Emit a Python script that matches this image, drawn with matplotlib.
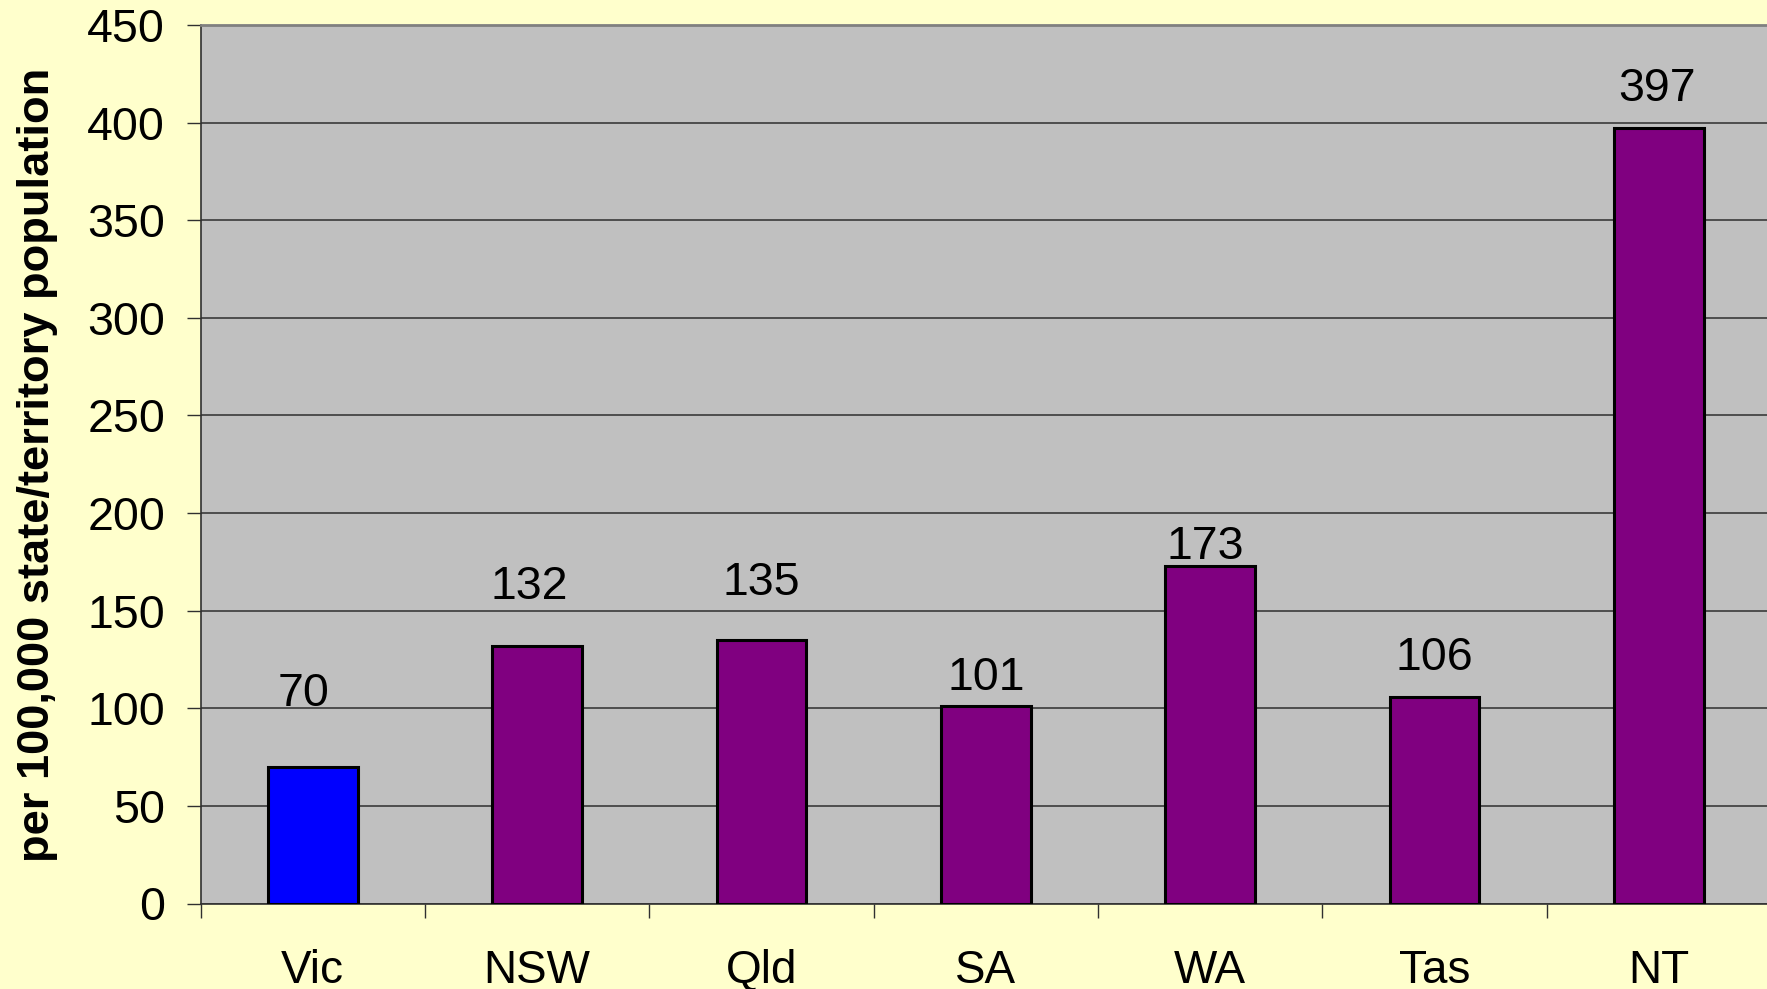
import matplotlib
matplotlib.use("Agg")
import matplotlib.pyplot as plt
import numpy as np

plt.rcParams['font.family'] = ['Liberation Sans', 'DejaVu Sans']

# data
states = ['Vic', 'NSW', 'Qld', 'SA', 'WA', 'Tas', 'NT']
rates = [70, 132, 135, 101, 173, 106, 397]
bar_colours = ['#0000FF', '#800080', '#800080', '#800080', '#800080', '#800080', '#800080']
# where each value label sits: baseline gap above the bar (data units), sideways nudge (categories)
label_gap = [31, 24, 23, 8.5, 3.5, 13.5, 14]
label_nudge = [-0.04, -0.035, 0, 0, -0.02, 0, -0.01]

W, H = 1767, 989
fig = plt.figure(figsize=(W / 100, H / 100), dpi=100)
fig.patch.set_facecolor('#FFFFCC')

# plot area placed in pixels, right edge runs slightly past the image
ax = fig.add_axes([200.6 / W, (H - 903.5) / H, (1771 - 200.6) / W, (903.5 - 25) / H])
ax.set_facecolor('#C0C0C0')

x = np.arange(len(states))
ax.bar(x, rates, width=0.4, color=bar_colours, edgecolor='black', linewidth=2.2, zorder=3)

for i, v in enumerate(rates):
    ax.text(x[i] + label_nudge[i], v + label_gap[i], str(v), ha='center', va='baseline',
            fontsize=33.5, color='black', zorder=4)

ax.set_xlim(-0.5, len(states) - 0.5)
ax.set_ylim(0, 450)
ax.set_yticks(np.arange(0, 451, 50))
ax.tick_params(axis='y', labelsize=33.5, length=10, width=1, color='#303030',
               direction='out', pad=15.5)

ax.set_xticks(x)
ax.set_xticklabels(states)
ax.set_xticks(np.arange(-0.5, len(states), 1.0), minor=True)
ax.tick_params(axis='x', which='major', length=0, labelsize=33, pad=33)
ax.tick_params(axis='x', which='minor', length=10, width=1, color='#303030', direction='out')

ax.yaxis.grid(True, color='#3a3a3a', linewidth=1.2)
ax.set_axisbelow(True)

ax.spines['top'].set_color('#808080')
ax.spines['top'].set_linewidth(2)
ax.spines['left'].set_color('#303030')
ax.spines['left'].set_linewidth(1.2)
ax.spines['bottom'].set_color('#303030')
ax.spines['bottom'].set_linewidth(1.2)
ax.spines['right'].set_visible(False)

fig.text(38 / W, (H - 464.5) / H, 'per 100,000 state/territory population',
         rotation=90, ha='center', va='center', fontsize=32.6, fontweight='bold')

fig.savefig('out.png', dpi=100, facecolor=fig.get_facecolor())
